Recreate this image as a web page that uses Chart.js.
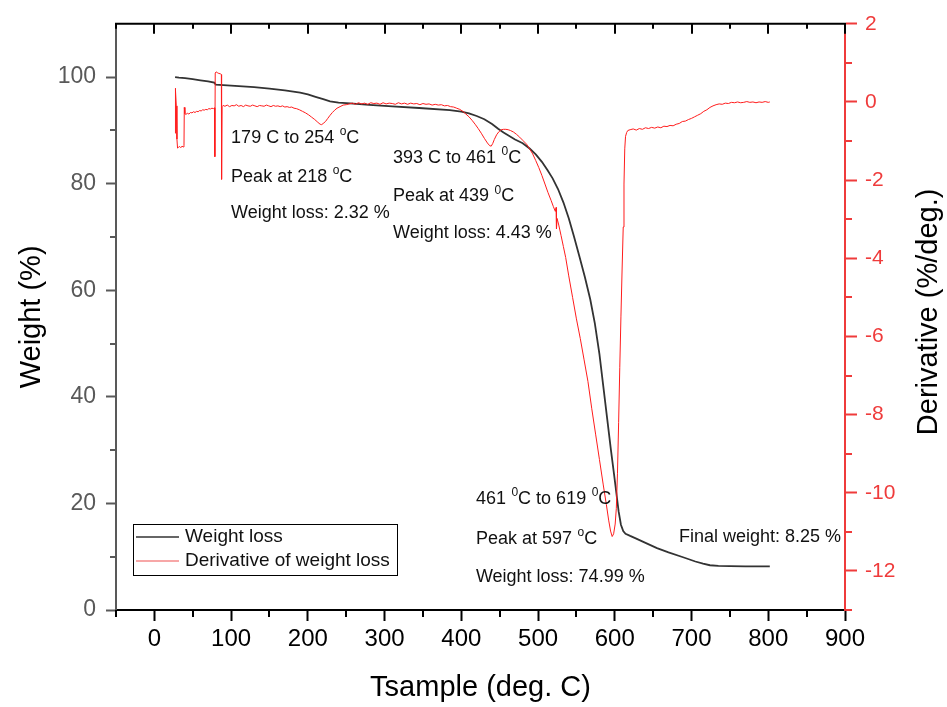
<!DOCTYPE html>
<html>
<head>
<meta charset="utf-8">
<script src="https://cdn.jsdelivr.net/npm/chart.js@4.4.1/dist/chart.umd.min.js"></script>
<style>
  html, body { margin: 0; padding: 0; background: #fff; }
  canvas { display: block; }
</style>
</head>
<body>
<canvas id="tga" width="947" height="707"></canvas>
<script>
const FONT = '"Liberation Sans", Arial, Helvetica, sans-serif';

// Thermogravimetric trace: sample temperature (deg. C) vs remaining weight (%)
const weightT = [27, 32, 40, 50, 60, 70, 78, 80, 90, 110, 130, 150, 170, 190, 200, 210, 220, 229, 240, 255,
  280, 310, 345, 385, 400, 410, 420, 430, 440, 448, 455, 462, 470, 480, 489, 497, 505, 512, 519, 526,
  533, 540, 547, 554, 561, 568, 574, 580, 585, 590, 595, 599, 602, 605, 608, 611, 614, 620, 628, 640,
  655, 670, 689, 705, 715, 724, 735, 750, 770, 790, 802];
const weightPct = [100.0, 99.9, 99.8, 99.6, 99.4, 99.2, 98.95, 98.6, 98.5, 98.3, 98.1, 97.85, 97.5, 97.1, 96.75, 96.3, 95.85, 95.45, 95.2, 95.05,
  94.8, 94.5, 94.2, 93.8, 93.5, 93.2, 92.7, 92.1, 91.2, 90.3, 89.6, 89.0, 88.3, 87.6, 86.6, 85.5, 84.1, 82.6, 81.0, 79.0,
  76.5, 73.5, 70.0, 66.3, 62.5, 58.3, 53.8, 48.0, 42.0, 36.0, 30.0, 25.5, 22.0, 18.5, 16.0, 14.8, 14.3, 13.9, 13.4, 12.6,
  11.6, 10.8, 9.9, 9.1, 8.7, 8.4, 8.28, 8.25, 8.2, 8.2, 8.2];

// Derivative of weight (%/deg.)
const derivT = [27.0, 27.2, 27.8, 28.6, 29.4, 30.2, 31.5, 33.0, 34.5, 36.0, 37.5, 38.6, 39.0, 39.8, 41, 43, 45, 47, 49, 51,
  53, 55, 57, 59, 61, 63, 65, 67, 69, 71, 73, 75, 77, 78.4, 78.8, 79.3, 80.5, 82, 84, 86,
  87.3, 87.6, 88.2, 89.5, 92, 95, 98, 101, 104, 107, 110, 113, 116, 119, 122, 125, 128, 131, 134, 137,
  140, 143, 146, 149, 152, 155, 158, 161, 164, 167, 170, 173, 176, 179, 182, 185, 189, 193, 197, 201,
  205, 209, 213, 216, 218, 220, 223, 226, 229, 232, 235, 238, 242, 246, 250, 254, 258, 262, 266, 270,
  274, 278, 282, 286, 290, 294, 298, 302, 306, 310, 314, 318, 322, 326, 330, 334, 338, 342, 346, 350,
  354, 358, 362, 366, 370, 374, 378, 382, 386, 390, 394, 398, 402, 406, 410, 414, 418, 422, 426, 430,
  434, 437, 439, 441, 443, 446, 449, 452, 455, 458, 461, 464, 468, 472, 476, 480, 485, 489, 493, 497,
  501, 505, 509, 513, 517, 520, 522.5, 523.5, 524, 524.8, 527, 530, 533, 536, 540, 545, 550, 555, 560, 565,
  570, 575, 580, 585, 589, 592, 594.5, 596.6, 598.5, 600.5, 602, 603.5, 605, 606.5, 608, 609.5, 611, 612, 613, 614,
  615.5, 617, 620, 624, 628, 632, 636, 640, 644, 648, 652, 656, 660, 664, 668, 672, 676, 680, 684, 688,
  692, 696, 700, 704, 708, 712, 716, 720, 724, 728, 732, 736, 740, 744, 748, 752, 756, 760, 764, 768,
  772, 776, 780, 784, 788, 792, 796, 800, 802];
const derivPct = [-0.80, 0.35, 0.30, -0.10, -0.95, -1.18, -1.16, -1.14, -1.17, -1.13, -1.15, -1.12, -0.14, -0.30, -0.32, -0.29, -0.31, -0.27, -0.28, -0.25,
  -0.27, -0.24, -0.25, -0.22, -0.23, -0.20, -0.21, -0.19, -0.20, -0.17, -0.18, -0.16, -0.17, -0.15, -1.40, 0.74, 0.77, 0.75, 0.73, 0.72,
  0.70, -1.98, -0.12, -0.09, -0.11, -0.08, -0.12, -0.09, -0.10, -0.07, -0.11, -0.09, -0.12, -0.08, -0.10, -0.11, -0.08, -0.10, -0.12, -0.09,
  -0.10, -0.11, -0.08, -0.10, -0.12, -0.09, -0.11, -0.10, -0.12, -0.10, -0.13, -0.12, -0.14, -0.13, -0.16, -0.17, -0.20, -0.24, -0.28, -0.33,
  -0.39, -0.45, -0.52, -0.57, -0.58, -0.55, -0.50, -0.42, -0.34, -0.27, -0.21, -0.16, -0.12, -0.08, -0.07, -0.05, -0.03, -0.06, -0.02, -0.05,
  -0.03, -0.06, -0.02, -0.04, -0.03, -0.06, -0.02, -0.05, -0.03, -0.04, -0.06, -0.02, -0.05, -0.03, -0.06, -0.03, -0.05, -0.04, -0.07, -0.04,
  -0.06, -0.05, -0.08, -0.06, -0.08, -0.07, -0.10, -0.09, -0.12, -0.13, -0.16, -0.19, -0.24, -0.31, -0.38, -0.47, -0.57, -0.68, -0.80, -0.93,
  -1.05, -1.12, -1.13, -1.06, -0.96, -0.84, -0.76, -0.71, -0.70, -0.70, -0.71, -0.73, -0.77, -0.83, -0.90, -0.98, -1.08, -1.20, -1.33, -1.50,
  -1.68, -1.88, -2.10, -2.32, -2.52, -2.68, -2.80, -2.70, -3.25, -2.98, -3.15, -3.42, -3.70, -3.98, -4.45, -5.00, -5.55, -6.05, -6.60, -7.15,
  -7.85, -8.50, -9.15, -9.80, -10.30, -10.70, -10.98, -11.12, -11.05, -10.80, -10.40, -9.50, -8.20, -6.80, -5.50, -4.30, -3.20, -2.10, -1.20, -0.88,
  -0.78, -0.73, -0.71, -0.69, -0.72, -0.68, -0.70, -0.66, -0.68, -0.65, -0.67, -0.64, -0.66, -0.62, -0.63, -0.60, -0.61, -0.57, -0.55, -0.50,
  -0.49, -0.45, -0.42, -0.38, -0.34, -0.30, -0.24, -0.20, -0.14, -0.10, -0.07, -0.05, -0.06, -0.03, -0.04, -0.01, -0.02, 0.00, -0.02, -0.01,
  0.01, -0.01, 0.00, -0.02, 0.00, -0.01, 0.01, -0.01, 0.00];

// Axis tick values
const xMajorTicks = [0, 100, 200, 300, 400, 500, 600, 700, 800, 900];
const xMinorTicks = [-50, 50, 150, 250, 350, 450, 550, 650, 750, 850];
const wMajorTicks = [0, 20, 40, 60, 80, 100];
const wMinorTicks = [10, 30, 50, 70, 90];
const dMajorTicks = [2, 0, -2, -4, -6, -8, -10, -12];
const dMinorTicks = [1, -1, -3, -5, -7, -9, -11, -13];

const seriesNames = ['Weight loss', 'Derivative of weight loss'];

// Text notes, anchored at (temperature, weight %); "^x" raises the character x
const notes = [
  { t: 100, w: 88.6, text: '179 C to 254 ^oC' },
  { t: 100, w: 81.3, text: 'Peak at 218 ^oC' },
  { t: 100, w: 74.4, text: 'Weight loss: 2.32 %' },
  { t: 311, w: 84.9, text: '393 C to 461 ^0C' },
  { t: 311, w: 77.6, text: 'Peak at 439 ^0C' },
  { t: 311, w: 70.7, text: 'Weight loss: 4.43 %' },
  { t: 419, w: 20.8, text: '461 ^0C to 619 ^0C' },
  { t: 419, w: 13.3, text: 'Peak at 597 ^oC' },
  { t: 419, w: 6.2, text: 'Weight loss: 74.99 %' },
  { t: 683.6, w: 13.7, text: 'Final weight: 8.25 %' }
];

const BLACK = '#000000';
const GREY = '#595959';
const RED_AXIS = '#ef3b3b';
const RED_LINE = '#ff1c1c';
const WEIGHT_LINE = '#333333';

function setTicks(values) {
  return scale => { scale.ticks = values.map(v => ({ value: v })); };
}

function drawNote(ctx, x, y, text) {
  const base = '18px ' + FONT;
  const sup = '12px ' + FONT;
  const parts = text.split('^');
  let cx = x;
  parts.forEach((p, i) => {
    let rest = p;
    if (i > 0) {
      ctx.font = sup;
      ctx.fillText(p[0], cx + 0.5, y - 6);
      cx += ctx.measureText(p[0]).width + 0.5;
      rest = p.slice(1);
    }
    ctx.font = base;
    ctx.fillText(rest, cx, y);
    cx += ctx.measureText(rest).width;
  });
}

const decorations = {
  id: 'decorations',
  afterDatasetsDraw(chart) {
    const ctx = chart.ctx;
    const { left, right, top, bottom } = chart.chartArea;
    const xs = chart.scales.x, ys = chart.scales.y, ds = chart.scales.y2;
    ctx.save();

    // top frame line with inward ticks
    ctx.strokeStyle = BLACK;
    ctx.lineWidth = 2;
    ctx.beginPath();
    ctx.moveTo(left - 1, top);
    ctx.lineTo(right + 1, top);
    ctx.stroke();
    ctx.beginPath();
    xMajorTicks.forEach(v => { const px = Math.round(xs.getPixelForValue(v)); ctx.moveTo(px, top); ctx.lineTo(px, top + 10); });
    xMinorTicks.forEach(v => { const px = Math.round(xs.getPixelForValue(v)); ctx.moveTo(px, top); ctx.lineTo(px, top + 5); });
    ctx.stroke();

    // minor ticks on bottom axis
    ctx.beginPath();
    xMinorTicks.forEach(v => { const px = Math.round(xs.getPixelForValue(v)); ctx.moveTo(px, bottom); ctx.lineTo(px, bottom + 7); });
    ctx.stroke();

    // minor ticks on weight axis
    ctx.strokeStyle = GREY;
    ctx.beginPath();
    wMinorTicks.forEach(v => { const py = Math.round(ys.getPixelForValue(v)); ctx.moveTo(left, py); ctx.lineTo(left - 6, py); });
    ctx.stroke();

    // minor ticks on derivative axis
    ctx.strokeStyle = RED_AXIS;
    ctx.beginPath();
    dMinorTicks.forEach(v => { const py = Math.round(ds.getPixelForValue(v)); ctx.moveTo(right, py); ctx.lineTo(right + 7, py); });
    ctx.stroke();

    // derivative axis title, reading upwards
    ctx.fillStyle = BLACK;
    ctx.font = '29px ' + FONT;
    ctx.textAlign = 'center';
    ctx.textBaseline = 'middle';
    ctx.save();
    ctx.translate(929, (top + bottom) / 2 - 5);
    ctx.rotate(-Math.PI / 2);
    ctx.fillText('Derivative (%/deg.)', 0, 0);
    ctx.restore();

    // notes
    ctx.textAlign = 'left';
    ctx.textBaseline = 'middle';
    ctx.fillStyle = '#111';
    notes.forEach(n => drawNote(ctx, xs.getPixelForValue(n.t), ys.getPixelForValue(n.w), n.text));

    // legend box
    const bx = left + 17, by = bottom - 86, bw = 264, bh = 51;
    ctx.fillStyle = '#fff';
    ctx.fillRect(bx, by, bw, bh);
    ctx.strokeStyle = BLACK;
    ctx.lineWidth = 1;
    ctx.strokeRect(bx + 0.5, by + 0.5, bw, bh);
    const rows = [
      { name: seriesNames[0], color: WEIGHT_LINE, width: 1.5 },
      { name: seriesNames[1], color: '#f58a8a', width: 1.5 }
    ];
    ctx.font = '19px ' + FONT;
    ctx.fillStyle = '#111';
    rows.forEach((r, i) => {
      const ly = by + 13 + i * 24;
      ctx.strokeStyle = r.color;
      ctx.lineWidth = r.width;
      ctx.beginPath();
      ctx.moveTo(bx + 3, ly);
      ctx.lineTo(bx + 46, ly);
      ctx.stroke();
      ctx.fillText(r.name, bx + 52, ly);
    });

    ctx.restore();
  }
};

new Chart(document.getElementById('tga'), {
  type: 'line',
  data: {
    datasets: [
      {
        label: seriesNames[0],
        data: weightT.map((t, i) => ({ x: t, y: weightPct[i] })),
        yAxisID: 'y',
        borderColor: WEIGHT_LINE,
        borderWidth: 1.8,
        pointRadius: 0,
        tension: 0,
        order: 1
      },
      {
        label: seriesNames[1],
        data: derivT.map((t, i) => ({ x: t, y: derivPct[i] })),
        yAxisID: 'y2',
        borderColor: RED_LINE,
        borderWidth: 1,
        pointRadius: 0,
        tension: 0,
        order: 0
      }
    ]
  },
  options: {
    responsive: false,
    animation: false,
    devicePixelRatio: 1,
    layout: { padding: { top: 23, left: 0, right: 0, bottom: 0 } },
    plugins: { legend: { display: false }, tooltip: { enabled: false } },
    scales: {
      x: {
        type: 'linear', position: 'bottom', min: -50, max: 900,
        afterBuildTicks: setTicks(xMajorTicks),
        afterFit: s => { s.height = 97; },
        ticks: { color: BLACK, font: { family: FONT, size: 24 }, padding: 4, maxRotation: 0, autoSkip: false },
        grid: { drawOnChartArea: false, drawTicks: true, tickLength: 11, tickWidth: 2, tickColor: BLACK },
        border: { color: BLACK, width: 2 },
        title: { display: true, text: 'Tsample (deg. C)', color: BLACK, font: { family: FONT, size: 29 }, padding: { top: 0, bottom: 2 } }
      },
      y: {
        type: 'linear', position: 'left', min: 0, max: 110,
        afterBuildTicks: setTicks(wMajorTicks),
        afterFit: s => { s.width = 116; },
        ticks: { color: GREY, font: { family: FONT, size: 23 }, padding: 10 },
        grid: { drawOnChartArea: false, drawTicks: true, tickLength: 10, tickWidth: 2, tickColor: GREY },
        border: { color: GREY, width: 2 },
        title: { display: true, text: 'Weight (%)', color: BLACK, font: { family: FONT, size: 29 }, padding: { top: 15, bottom: 0 } }
      },
      y2: {
        type: 'linear', position: 'right', min: -13, max: 2,
        afterBuildTicks: setTicks(dMajorTicks),
        afterFit: s => { s.width = 102; },
        ticks: { color: RED_AXIS, font: { family: FONT, size: 21 }, padding: 8 },
        grid: { drawOnChartArea: false, drawTicks: true, tickLength: 12, tickWidth: 2, tickColor: RED_AXIS },
        border: { color: RED_AXIS, width: 2 }
      }
    }
  },
  plugins: [decorations]
});
</script>
</body>
</html>
